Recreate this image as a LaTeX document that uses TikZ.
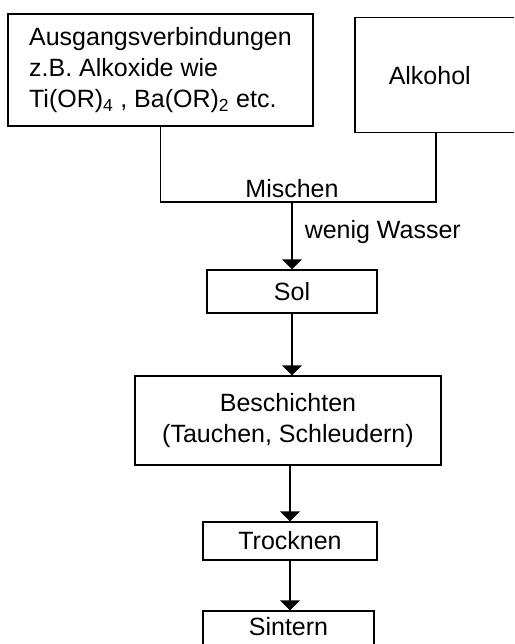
\documentclass[tikz,border=0pt]{standalone}
\usepackage{fontspec}
\setmainfont{Liberation Sans}
\usetikzlibrary{arrows.meta}
\tikzset{
  stepbox/.style={draw, line width=1.5pt, inner sep=0pt, align=center},
  flow/.style={line width=1.5pt, -{Triangle[width=20pt,length=10pt]}},
  plain/.style={line width=1.5pt}
}

\begin{document}
\begin{tikzpicture}[x=1pt, y=-1pt, font=\fontsize{25}{31}\selectfont]
    \useasboundingbox (0,0) rectangle (514,644);
    \clip (0,0) rectangle (514,644);
    % starting materials
    \node[stepbox, minimum width=305pt, minimum height=112pt, align=left]
      (ausgang) at (160.5,70)
      {Ausgangsverbindungen\\z.B. Alkoxide wie\\Ti(OR)\textsubscript{4} , Ba(OR)\textsubscript{2} etc.};
    \node[stepbox, anchor=north west, minimum height=115pt,
      text width=108pt, inner xsep=34pt, align=left]
      (alkohol) at (354,17) {Alkohol};
    % mixing
    \node[anchor=base, inner sep=0pt] (mischen) at (292,198) {Mischen};
    \coordinate (mixL) at (160.5,202);
    \coordinate (mixR) at (436,202);
    \coordinate (mixC) at (292,202);
    \draw[plain] (ausgang.south) -- (mixL) -- (mixR) -- (mixR |- alkohol.south);
    % process steps
    \node[stepbox, minimum width=170pt, minimum height=43pt] (sol) at (292,291.5) {Sol};
    \node[stepbox, minimum width=306pt, minimum height=89pt] (beschichten) at (288,420.5)
      {Beschichten\\(Tauchen, Schleudern)};
    \node[stepbox, minimum width=174pt, minimum height=38pt] (trocknen) at (290,541) {Trocknen};
    \node[stepbox, anchor=base, minimum width=171pt, text height=24pt, text depth=14pt]
      (sintern) at (288.5,635) {Sintern};
    % arrows
    \draw[flow] (mixC) -- node[right, pos=0.45, inner xsep=12pt] {wenig Wasser} (mixC |- sol.north);
    \draw[flow] (sol.south) -- (sol.south |- beschichten.north);
    \draw[flow] (trocknen.north |- beschichten.south) -- (trocknen.north);
    \draw[flow] (trocknen.south) -- (trocknen.south |- sintern.north);
\end{tikzpicture}
\end{document}
